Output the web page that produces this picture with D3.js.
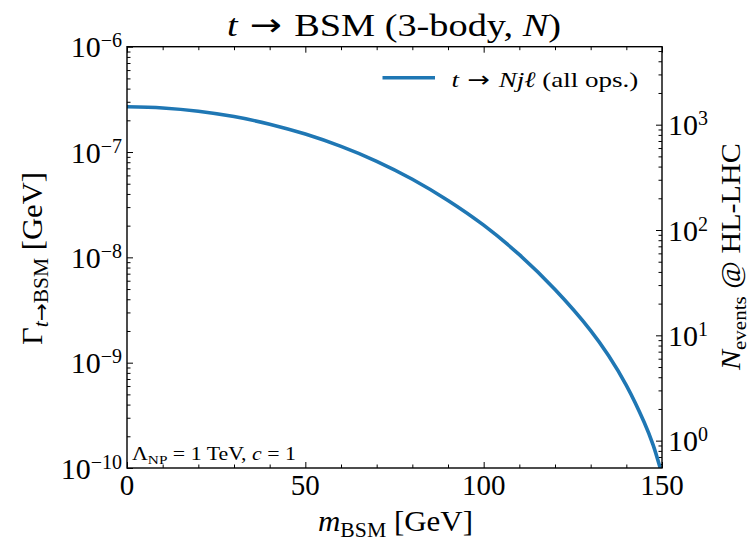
<!DOCTYPE html>
<html>
<head>
<meta charset="utf-8">
<script src="https://cdn.jsdelivr.net/npm/d3@7"></script>
<style>
  html, body { margin: 0; padding: 0; background: #fff; }
  svg { display: block; }
  text { font-family: "Liberation Serif", "Times New Roman", serif; fill: #000; }
  .domain { display: none; }
</style>
</head>
<body>
<svg id="chart" width="750" height="544"></svg>
<script>
// BSM mass scan (GeV) and the corresponding partial width of t -> N j l (GeV)
const massGeV = [0, 10, 20, 30, 40, 50, 60, 70, 80, 90, 100, 110, 120, 130, 135, 140, 145, 147.5, 150];
const widthGeV = [2.69e-7, 2.62e-7, 2.44e-7, 2.17e-7, 1.84e-7, 1.48e-7, 1.13e-7, 8.17e-8, 5.52e-8,
                  3.47e-8, 2.02e-8, 1.06e-8, 4.95e-9, 2.02e-9, 1.17e-9, 6.10e-10, 2.72e-10, 1.66e-10, 8.7e-11];

// Conversion from width (GeV) to number of events at HL-LHC
const eventsPerGeV = 5.5e9;

// Axis ranges and tick values
const massRange = [0, 150];
const widthRange = [1e-10, 1e-6];
const massTicks = [0, 50, 100, 150];
const massMinorTicks = [10, 20, 30, 40, 60, 70, 80, 90, 110, 120, 130, 140];
const widthExponents = [-10, -9, -8, -7, -6];
const eventExponents = [0, 1, 2, 3];

const svg = d3.select("#chart");
const plot = { left: 127, right: 662, top: 46.7, bottom: 468 };

const x = d3.scaleLinear().domain(massRange).range([plot.left, plot.right]);
const y = d3.scaleLog().domain(widthRange).range([plot.bottom, plot.top]);
const yN = d3.scaleLog()
  .domain([widthRange[0] * eventsPerGeV, widthRange[1] * eventsPerGeV])
  .range([plot.bottom, plot.top]);

// minor log ticks (2..9 times each decade) inside a scale's domain
function logMinors(scale) {
  const [a, b] = scale.domain();
  const out = [];
  for (let k = Math.floor(Math.log10(a)); k <= Math.ceil(Math.log10(b)); k++) {
    for (let j = 2; j <= 9; j++) {
      const v = j * Math.pow(10, k);
      if (v >= a * 0.9999 && v <= b * 1.0001) out.push(v);
    }
  }
  return out;
}

// rich text: italics, subscripts and superscripts as tspans
function rich(sel, parts, size) {
  let shift = 0;
  parts.forEach(p => {
    let target = 0, fs = size;
    if (p.sup) { target = -(p.raise || 0.36 * size); fs = p.size || size * 0.68; }
    if (p.sub) { target = 0.22 * size; fs = size * 0.7; }
    const ts = sel.append("tspan")
      .attr("dy", target - shift)
      .style("font-size", fs + "px")
      .text(p.t);
    if (p.i) ts.style("font-style", "italic");
    if (p.arrow) ts.style("font-family", "'DejaVu Sans', sans-serif");
    shift = target;
  });
  return sel;
}

// label placed at an anchor point, optionally rotated and stretched to a given width
function label(parts, size, o) {
  const g = svg.append("g")
    .attr("transform", `translate(${o.x},${o.y})` + (o.rotate ? ` rotate(${o.rotate})` : ""));
  const t = g.append("text").attr("text-anchor", o.anchor || "start").style("font-size", size + "px");
  rich(t, parts, size);
  if (o.width) {
    const w = t.node().getBBox().width;
    if (w > 0) t.attr("transform", `scale(${o.width / w},1)`);
  }
  return t;
}

const MAJOR = 6, MINOR = 3.5;

function styleTicks(g) {
  g.selectAll(".tick line").attr("stroke", "#000").attr("stroke-width", 1);
}

// bottom and top x axes (ticks inside)
const gxB = svg.append("g").attr("transform", `translate(0,${plot.bottom})`);
gxB.call(d3.axisBottom(x).tickValues(massTicks).tickSize(-MAJOR).tickFormat(""));
gxB.append("g").call(d3.axisBottom(x).tickValues(massMinorTicks).tickSize(-MINOR).tickFormat(""));
styleTicks(gxB);
massTicks.forEach(v => {
  svg.append("text").attr("x", x(v)).attr("y", plot.bottom + 26.5)
    .attr("text-anchor", "middle").style("font-size", "29px").text(v);
});

const gxT = svg.append("g").attr("transform", `translate(0,${plot.top})`);
gxT.call(d3.axisTop(x).tickValues(massTicks).tickSize(-MAJOR).tickFormat(""));
gxT.append("g").call(d3.axisTop(x).tickValues(massMinorTicks).tickSize(-MINOR).tickFormat(""));
styleTicks(gxT);

// left axis: decay width
const gyL = svg.append("g").attr("transform", `translate(${plot.left},0)`);
gyL.call(d3.axisLeft(y).tickValues(widthExponents.map(e => Math.pow(10, e))).tickSize(-MAJOR).tickFormat(""));
gyL.append("g").call(d3.axisLeft(y).tickValues(logMinors(y)).tickSize(-MINOR).tickFormat(""));
styleTicks(gyL);
widthExponents.forEach(e => {
  const t = svg.append("text").attr("x", plot.left - 5).attr("y", y(Math.pow(10, e)) + 10.5)
    .attr("text-anchor", "end").style("font-size", "30px");
  rich(t, [{ t: "10" }, { t: "\u2212" + Math.abs(e), sup: true, raise: 10, size: 20 }], 30);
});

// right axis: number of events
const gyR = svg.append("g").attr("transform", `translate(${plot.right},0)`);
gyR.call(d3.axisRight(yN).tickValues(eventExponents.map(e => Math.pow(10, e))).tickSize(-MAJOR).tickFormat(""));
gyR.append("g").call(d3.axisRight(yN).tickValues(logMinors(yN)).tickSize(-MINOR).tickFormat(""));
styleTicks(gyR);
eventExponents.forEach(e => {
  const t = svg.append("text").attr("x", plot.right + 6).attr("y", yN(Math.pow(10, e)) + 10.5)
    .attr("text-anchor", "start").style("font-size", "30px");
  rich(t, [{ t: "10" }, { t: String(e), sup: true, raise: 10, size: 20 }], 30);
});

// curve, clipped to the axes box
svg.append("clipPath").attr("id", "plotClip").append("rect")
  .attr("x", plot.left).attr("y", plot.top)
  .attr("width", plot.right - plot.left).attr("height", plot.bottom - plot.top);

const series = massGeV.map((m, i) => ({ m, w: widthGeV[i] }));
svg.append("path")
  .datum(series)
  .attr("clip-path", "url(#plotClip)")
  .attr("fill", "none")
  .attr("stroke", "#1f77b4")
  .attr("stroke-width", 3.6)
  .attr("stroke-linecap", "butt")
  .attr("d", d3.line().x(d => x(d.m)).y(d => y(d.w)).curve(d3.curveCatmullRom.alpha(0.5)));

// axes box
svg.append("rect")
  .attr("x", plot.left).attr("y", plot.top)
  .attr("width", plot.right - plot.left).attr("height", plot.bottom - plot.top)
  .attr("fill", "none").attr("stroke", "#000").attr("stroke-width", 1.4);

// legend
svg.append("line").attr("x1", 382.5).attr("x2", 435).attr("y1", 77.7).attr("y2", 77.7)
  .attr("stroke", "#1f77b4").attr("stroke-width", 3.6);
label([{ t: "t", i: true }, { t: " \u2192 ", arrow: true }, { t: "Nj\u2113", i: true }, { t: " (all ops.)" }], 22,
  { x: 451.5, y: 87.3, width: 187 });

// parameter note
label([{ t: "\u039B" }, { t: "NP", sub: true }, { t: " = 1 TeV, " }, { t: "c", i: true }, { t: " = 1" }], 19,
  { x: 132, y: 460, width: 164 });

// title
label([{ t: "t", i: true }, { t: " \u2192 ", arrow: true }, { t: "BSM (3-body, " }, { t: "N", i: true }, { t: ")" }], 32,
  { x: 394, y: 36, anchor: "middle", width: 334 });

// axis titles
label([{ t: "m", i: true }, { t: "BSM", sub: true }, { t: " [GeV]" }], 29,
  { x: 395.5, y: 531, anchor: "middle", width: 155 });

label([{ t: "\u0393" }, { t: "t", sub: true, i: true }, { t: "\u2192", sub: true, arrow: true }, { t: "BSM", sub: true }, { t: " [GeV]" }], 29,
  { x: 41.7, y: 258.4, rotate: -90, anchor: "middle", width: 173 });

label([{ t: "N", i: true }, { t: "events", sub: true }, { t: " @ HL-LHC" }], 28,
  { x: 740, y: 256.7, rotate: -90, anchor: "middle", width: 228 });
</script>
</body>
</html>
